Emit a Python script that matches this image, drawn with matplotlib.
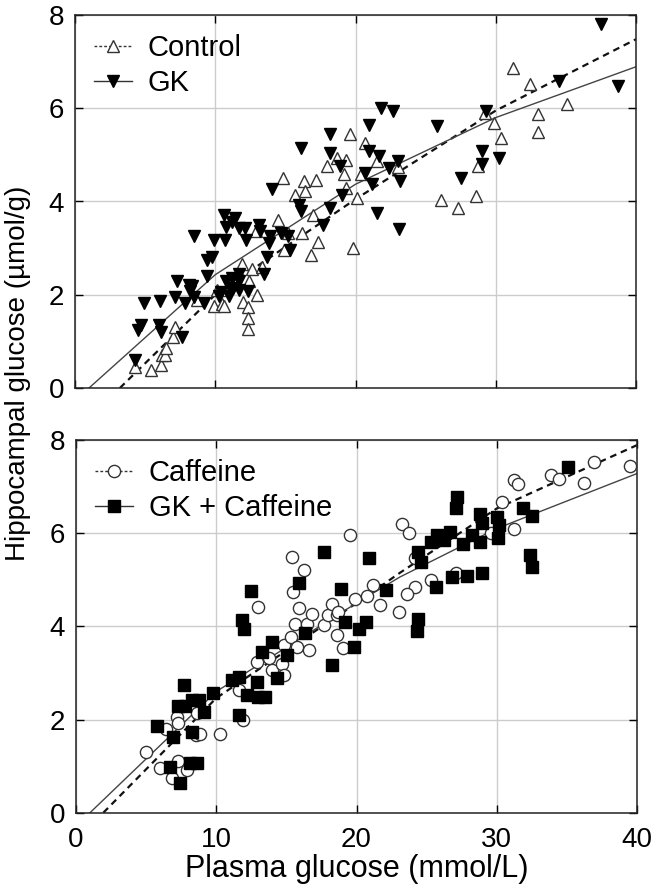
import matplotlib

matplotlib.use("Agg")

import matplotlib.pyplot as plt
from matplotlib.lines import Line2D

plt.rcParams["font.family"] = ["Liberation Sans", "DejaVu Sans"]

# --- top panel: Control (open up-triangles) and GK (filled down-triangles)
control_x = [4.3, 5.4, 6.1, 6.2, 6.4, 6.5, 7.0, 7.1, 8.7, 9.9, 10.1, 10.5, 10.6, 10.8,
             11.9, 12.0, 12.3, 12.3, 12.3, 12.4, 12.6, 12.95, 13.3, 12.9, 14.5, 14.8,
             14.9, 15.2, 15.7, 16.2, 16.3, 16.4, 16.8, 17.0, 17.2, 17.3, 18.0, 18.7,
             19.2, 19.3, 19.3, 19.6, 19.8, 20.1, 20.4, 20.7, 21.5, 23.0, 26.1, 27.3,
             28.6, 28.7, 29.2, 29.9, 30.4, 31.2, 32.45, 33.0, 33.0, 35.1]
control_y = [0.46, 0.39, 0.5, 0.7, 0.7, 0.85, 1.1, 1.3, 1.89, 1.75, 2.1, 1.8, 1.75, 2.1,
             2.65, 1.85, 1.73, 1.5, 1.27, 2.3, 2.55, 1.99, 2.6, 3.36, 3.61, 4.51,
             2.95, 3.33, 4.15, 3.33, 4.44, 4.22, 2.86, 3.72, 4.47, 3.14, 4.76, 4.94,
             4.58, 4.9, 4.29, 5.44, 3.0, 4.08, 4.58, 5.26, 4.87, 4.73, 4.04, 3.86,
             4.11, 4.76, 5.9, 5.69, 5.37, 6.87, 6.52, 5.87, 5.5, 6.09]

gk_x = [4.3, 4.5, 4.7, 4.95, 6.07, 6.0, 6.1, 7.14, 7.26, 7.62, 7.86, 8.1, 8.2, 8.33,
        8.45, 8.45, 9.21, 9.4, 9.4, 9.76, 9.88, 10.3, 10.4, 10.6, 10.7, 10.8, 10.8,
        11.0, 11.1, 11.2, 11.3, 11.4, 11.2, 11.7, 11.7, 11.7, 11.7, 12.1, 12.2, 12.3,
        13.1, 13.2, 13.5, 13.7, 13.8, 13.9, 14.05, 14.7, 15.3, 15.2, 15.95, 16.1, 16.1,
        17.7, 18.2, 18.2, 18.2, 18.9, 19.05, 20.7, 20.95, 20.95, 21.2, 21.5, 21.7,
        21.8, 22.4, 22.7, 23.0, 23.1, 23.2, 25.8, 27.5, 29.0, 29.05, 29.3, 30.2,
        34.5, 37.5, 38.7]
gk_y = [0.6, 1.25, 1.35, 1.82, 1.86, 1.35, 1.2, 1.96, 2.29, 1.1, 1.82, 2.21, 2.07, 2.18,
        3.25, 1.95, 1.82, 2.75, 2.4, 2.82, 3.18, 1.98, 2.05, 3.72, 3.18, 3.46, 2.3,
        1.98, 2.1, 2.35, 2.15, 3.65, 3.57, 2.3, 2.1, 2.45, 3.43, 3.43, 3.18, 2.08,
        3.5, 3.36, 2.45, 2.8, 3.1, 3.25, 4.26, 3.33, 2.95, 3.25, 3.93, 3.8, 5.15,
        3.5, 3.86, 5.44, 5.05, 4.76, 4.15, 4.62, 5.65, 5.08, 4.37, 3.76, 4.97,
        6.01, 4.72, 5.94, 4.87, 3.4, 4.44, 5.63, 4.51, 4.8, 5.08, 5.94, 4.94,
        6.59, 7.8, 6.48]

control_fit_x = [3.2, 10, 20, 30, 40]
control_fit_y = [0.0, 2.0, 4.05, 5.95, 7.48]
gk_fit_x = [1.0, 10, 20, 30, 40]
gk_fit_y = [0.0, 2.43, 4.37, 5.8, 6.89]

# --- bottom panel: Caffeine (open circles) and GK + Caffeine (filled squares)
caff_x = [5.0, 6.0, 6.43, 7.2, 6.83, 7.3, 7.9, 7.3, 8.62, 8.57, 8.86, 10.3, 11.6, 11.9,
          12.9, 13.0, 13.74, 13.98, 14.7, 14.8, 14.8, 15.3, 15.6, 15.76, 15.88, 16.6,
          16.5, 16.83, 17.67, 18.0, 18.6, 18.26, 18.7, 18.6, 19.05, 19.9, 19.57, 23.26,
          23.74, 15.4, 16.24, 15.48, 24.2, 24.2, 23.6, 21.2, 20.76, 21.7, 23.0, 36.95,
          39.52, 33.86, 34.45, 36.19, 31.24, 31.5, 30.4, 31.24, 29.62, 27.07, 25.33]
caff_y = [1.31, 0.95, 1.79, 2.06, 0.74, 1.1, 0.92, 1.92, 2.13, 1.67, 1.7, 1.7, 2.63, 1.99,
          3.24, 4.42, 3.31, 3.06, 3.2, 2.95, 3.6, 3.77, 4.06, 3.56, 4.4, 3.49,
          4.06, 4.27, 4.03, 4.24, 4.24, 4.49, 4.31, 3.81, 3.53, 4.58, 5.96, 6.19,
          6.0, 5.48, 5.22, 4.74, 5.46, 4.85, 4.69, 4.89, 4.65, 4.45, 4.31, 7.53,
          7.44, 7.25, 7.17, 7.07, 7.15, 7.05, 6.67, 6.08, 6.0, 5.14, 4.99]

gkcaff_x = [5.76, 6.95, 6.71, 7.43, 7.67, 7.3, 7.8, 8.26, 8.74, 9.1, 8.26, 8.62, 8.14,
            9.8, 11.1, 11.6, 11.6, 11.83, 11.95, 12.2, 12.9, 13.0, 13.5, 13.26, 13.98,
            14.3, 15.05, 16.35, 18.26, 19.2, 19.8, 20.2, 17.7, 20.9, 15.93, 12.5, 18.9,
            22.1, 20.7, 24.4, 24.4, 24.3, 35.05, 27.2, 27.1, 28.8, 28.98, 30.0, 30.17,
            30.1, 31.9, 32.5, 24.6, 25.3, 25.77, 26.24, 26.7, 27.6, 28.26, 28.8, 32.4,
            32.48, 25.7, 26.8, 27.9, 28.98]
gkcaff_y = [1.86, 1.63, 0.99, 0.63, 2.74, 2.28, 2.28, 2.42, 2.42, 2.17, 1.74, 1.06, 1.06,
            2.56, 2.85, 2.92, 2.1, 4.13, 3.95, 2.52, 2.81, 2.49, 2.49, 3.45, 3.67,
            2.9, 3.38, 3.85, 3.17, 4.1, 3.56, 3.95, 5.59, 5.46, 4.93, 4.76, 4.8,
            4.79, 4.1, 5.6, 4.15, 3.89, 7.43, 6.78, 6.53, 6.42, 6.21, 6.35, 6.17,
            5.89, 6.53, 6.37, 5.39, 5.82, 5.96, 5.85, 6.03, 5.77, 5.96, 5.81, 5.53,
            5.28, 4.85, 5.06, 5.08, 5.15]

caff_fit_x = [1.95, 10, 20, 23.1, 30, 40]
caff_fit_y = [0.0, 2.46, 4.5, 5.15, 6.53, 7.89]
gkcaff_fit_x = [1.0, 10, 20, 23.1, 30, 40]
gkcaff_fit_y = [0.0, 2.6, 4.5, 5.06, 6.1, 7.28]

X_TICKS = [0, 10, 20, 30, 40]
Y_TICKS = [0, 2, 4, 6, 8]

MS = 8.8


def style_axes(ax, show_xlabels):
    ax.set_xlim(0, 40)
    ax.set_ylim(0, 8)
    ax.set_xticks(X_TICKS)
    ax.set_yticks(Y_TICKS)
    ax.grid(True, color="#cccccc", linewidth=1.0, zorder=0)
    ax.set_axisbelow(True)
    ax.tick_params(direction="in", length=6, width=1.0, top=True, right=True,
                   labelsize=20, pad=8)
    ax.tick_params(axis="x", pad=10)
    if not show_xlabels:
        ax.tick_params(labelbottom=False)
    for side in ax.spines.values():
        side.set_linewidth(1.1)
        side.set_color("#222222")


fig = plt.figure(figsize=(6.53, 8.92), dpi=100)
ax_top = fig.add_axes([75 / 653, 1 - 388 / 892, 561 / 653, 373 / 892])
ax_bot = fig.add_axes([76 / 653, 1 - 812.7 / 892, 561 / 653, 372.7 / 892])

# top panel
ax_top.plot(control_fit_x, control_fit_y, color="#111111", linestyle=(0, (3, 2.2)),
            linewidth=1.6, zorder=2)
ax_top.plot(gk_fit_x, gk_fit_y, color="#444444", linewidth=1.0, zorder=2)
ax_top.plot(control_x, control_y, linestyle="none", marker="^", ms=MS,
            markerfacecolor="white", markeredgecolor="#333333", markeredgewidth=1.0,
            zorder=3)
ax_top.plot(gk_x, gk_y, linestyle="none", marker="v", ms=MS,
            markerfacecolor="black", markeredgecolor="black", zorder=3)
style_axes(ax_top, show_xlabels=False)
top_handles = [
    Line2D([0], [0], color="#333333", linestyle=(0, (2, 1.5)), linewidth=1.0, marker="^",
           ms=MS, markerfacecolor="white", markeredgecolor="#333333", label="Control"),
    Line2D([0], [0], color="#333333", linewidth=1.0, marker="v", ms=MS,
           markerfacecolor="black", markeredgecolor="black", label="GK"),
]
ax_top.legend(handles=top_handles, loc="upper left", frameon=False, fontsize=21,
              handlelength=1.3, handletextpad=0.55, borderaxespad=0.25,
              labelspacing=0.25)

# bottom panel
ax_bot.plot(caff_fit_x, caff_fit_y, color="#111111", linestyle=(0, (3, 2.2)),
            linewidth=1.6, zorder=2)
ax_bot.plot(gkcaff_fit_x, gkcaff_fit_y, color="#444444", linewidth=1.0, zorder=2)
ax_bot.plot(caff_x, caff_y, linestyle="none", marker="o", ms=MS,
            markerfacecolor="white", markeredgecolor="#333333", markeredgewidth=1.0,
            zorder=3)
ax_bot.plot(gkcaff_x, gkcaff_y, linestyle="none", marker="s", ms=MS,
            markerfacecolor="black", markeredgecolor="black", zorder=3)
style_axes(ax_bot, show_xlabels=True)
bot_handles = [
    Line2D([0], [0], color="#333333", linestyle=(0, (2, 1.5)), linewidth=1.0, marker="o",
           ms=MS, markerfacecolor="white", markeredgecolor="#333333", label="Caffeine"),
    Line2D([0], [0], color="#333333", linewidth=1.0, marker="s", ms=MS,
           markerfacecolor="black", markeredgecolor="black", label="GK + Caffeine"),
]
ax_bot.legend(handles=bot_handles, loc="upper left", frameon=False, fontsize=21,
              handlelength=1.3, handletextpad=0.55, borderaxespad=0.25,
              labelspacing=0.25)
ax_bot.set_xlabel("Plasma glucose (mmol/L)", fontsize=22, labelpad=1)

fig.text(18 / 653, 1 - 373 / 892, "Hippocampal glucose (µmol/g)", rotation=90,
         ha="center", va="center", fontsize=20)

fig.savefig("out.png", dpi=100)
